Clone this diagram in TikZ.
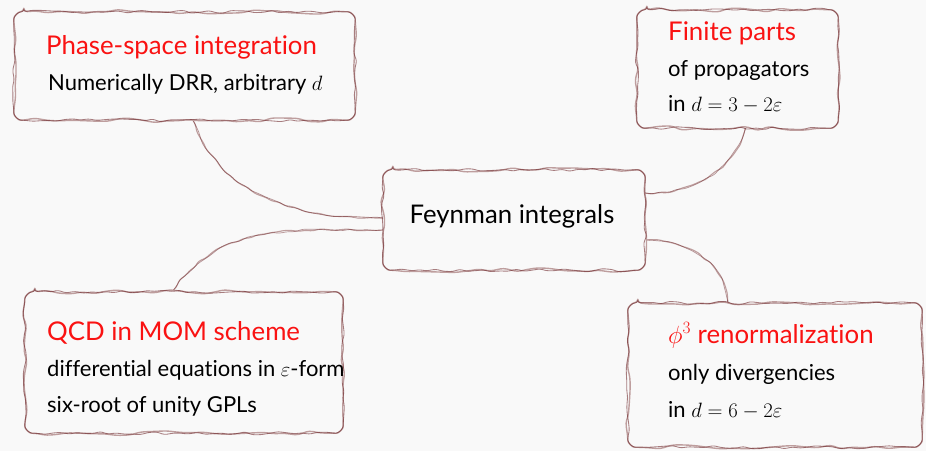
\documentclass[tikz,border=0pt]{standalone}
\usepackage{fontspec}
\setmainfont[Ligatures=NoCommon]{Lato}
\usetikzlibrary{decorations.pathmorphing}
\definecolor{bg}{RGB}{249,249,249}
\definecolor{edgeL}{RGB}{190,158,158}
\definecolor{edgeD}{RGB}{100,24,28}
\definecolor{titred}{RGB}{250,18,18}
\tikzset{
  frameA/.style={draw=edgeL, line width=1.4pt, fill=bg, line join=round,
    decoration={random steps, segment length=12pt, amplitude=2.4pt}, rounded corners=3.5pt},
  frameB/.style={draw=edgeD, draw opacity=0.55, line width=0.85pt, line join=round,
    decoration={random steps, segment length=8pt, amplitude=1.6pt}, rounded corners=2.5pt},
  connA/.style={draw=edgeL, line width=1.1pt, line join=round, decorate,
    decoration={random steps, segment length=7pt, amplitude=1.2pt}, rounded corners=2.5pt},
  connB/.style={draw=edgeD, draw opacity=0.45, line width=0.7pt, line join=round, decorate,
    decoration={random steps, segment length=8pt, amplitude=1.2pt}, rounded corners=2.5pt},
  tit/.style={anchor=base west, inner sep=0pt, text=titred, font=\fontsize{25.8}{30}\selectfont},
  body/.style={anchor=base west, inner sep=0pt, text=black, font=\fontsize{22}{26}\selectfont},
  ctr/.style={anchor=base, inner sep=0pt, text=black, font=\fontsize{25.7}{30}\selectfont}
}
\newcommand\roughframe[2]{%
  \path[#2] ([xshift=10pt]#1.north west)
    decorate{-- ([xshift=-10pt]#1.north east)} arc[start angle=90,end angle=0,radius=10pt]
    decorate{-- ([yshift=10pt]#1.south east)} arc[start angle=0,end angle=-90,radius=10pt]
    decorate{-- ([xshift=10pt]#1.south west)} arc[start angle=-90,end angle=-180,radius=10pt]
    decorate{-- ([yshift=-10pt]#1.north west)} arc[start angle=180,end angle=90,radius=10pt]
    -- cycle;}
\begin{document}
\begin{tikzpicture}[x=1pt,y=-1pt]
\pgfmathsetseed{11}
\fill[bg] (0,0) rectangle (926,451);
\useasboundingbox (0,0) rectangle (926,451);
% box frames (named, used as connector ends)
\node[minimum width=341pt, minimum height=108pt] (PS) at (184.5,66) {};
\node[minimum width=201pt, minimum height=118pt] (FP) at (737.5,69) {};
\node[minimum width=262pt, minimum height=100pt] (FI) at (514,220) {};
\node[minimum width=318pt, minimum height=141pt] (QCD) at (184,362.5) {};
\node[minimum width=294pt, minimum height=144pt] (PHI) at (775,375) {};
% connectors
\foreach \s in {connA,connB}{
  \draw[\s] ([yshift=2pt]FI.west) to[out=180,in=-70] ([xshift=8.5pt]PS.south);
  \draw[\s] ([yshift=-10pt]FI.west) to[out=180,in=55] ([xshift=-12pt]QCD.north);
  \draw[\s] ([yshift=27pt]FI.east) to[out=0,in=-105] ([xshift=7.5pt]FP.south);
  \draw[\s] ([yshift=-20pt]FI.east) to[out=0,in=90] ([xshift=-48pt]PHI.north);
}
% box outlines
\foreach \s in {frameA,frameB}{
  \foreach \n in {PS,FP,FI,QCD,PHI}{
    \roughframe{\n}{\s}
  }
}
% texts
\node[tit] (t1) at (46,54) {Phase-space integration};
\node[body] (t2) at (48,90) {Numerically DRR, arbitrary $d$};
\node[tit] (t3) at (668,40) {Finite parts};
\node[body] (t4) at (668,76) {of propagators};
\node[body] (t5) at (668,111) {in $d=3-2\varepsilon$};
\node[ctr] (t6) at (512,223) {Feynman integrals};
\node[tit] (t7) at (47,340) {QCD in MOM scheme};
\node[body] (t8) at (47,376) {differential equations in $\varepsilon$-form};
\node[body] (t9) at (47,412) {six-root of unity GPLs};
\node[tit] (t10) at (668,343) {$\phi^3$ renormalization};
\node[body] (t11) at (668,380) {only divergencies};
\node[body] (t12) at (668,417) {in $d=6-2\varepsilon$};
\end{tikzpicture}
\end{document}
